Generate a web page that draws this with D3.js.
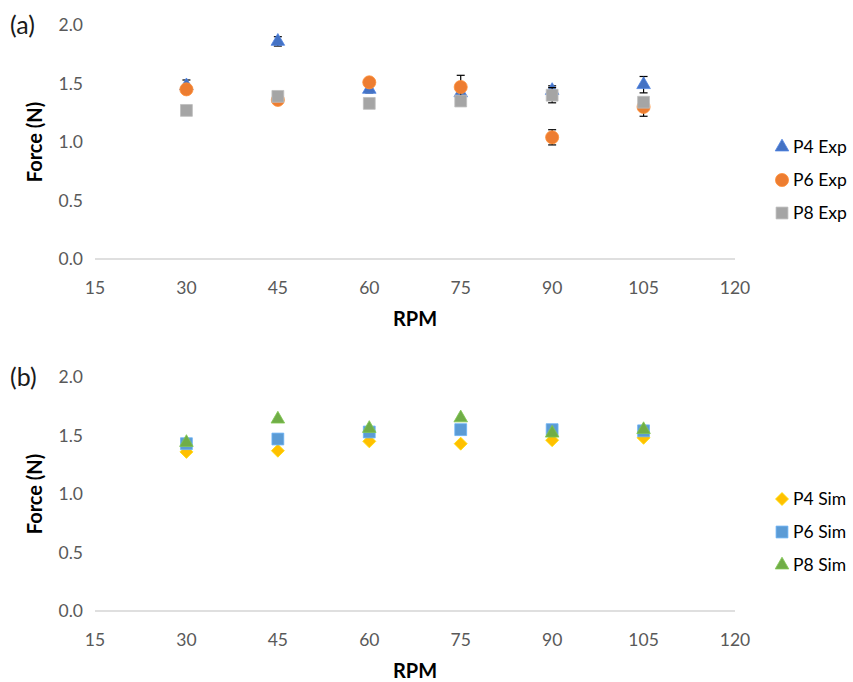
<!DOCTYPE html>
<html>
<head>
<meta charset="utf-8">
<script src="https://cdn.jsdelivr.net/npm/d3@7"></script>
<style>
    body { margin: 0; background: #fff; }
    text { font-family: Lato, "Open Sans", sans-serif; }
    .tick-label { fill: #595959; font-size: 17.5px; }
    .axis-title { fill: #000; font-size: 20px; font-weight: bold; }
    .panel-label { fill: #1a1a1a; font-size: 25px; }
    .legend-text { fill: #000; font-size: 17.5px; }
</style>
</head>
<body>
<div id="wrapper"></div>
<script>
const rpm = [30, 45, 60, 75, 90, 105];
const xTicks = [15, 30, 45, 60, 75, 90, 105, 120];
const yTicks = [0.0, 0.5, 1.0, 1.5, 2.0];

// panel (a) experiment
const p4Exp = [1.48, 1.86, 1.45, 1.42, 1.44, 1.49];
const p4ExpErr = [0.05, 0.04, 0.03, 0.03, 0.04, 0.07];
const p6Exp = [1.45, 1.36, 1.51, 1.47, 1.04, 1.30];
const p6ExpErr = [0.03, 0.02, 0.03, 0.10, 0.065, 0.08];
const p8Exp = [1.27, 1.39, 1.33, 1.35, 1.40, 1.34];
const p8ExpErr = [0.02, 0.02, 0.02, 0.02, 0.065, 0.03];

// panel (b) simulation
const p4Sim = [1.36, 1.37, 1.45, 1.43, 1.46, 1.48];
const p6Sim = [1.43, 1.47, 1.53, 1.55, 1.55, 1.54];
const p8Sim = [1.44, 1.64, 1.56, 1.65, 1.52, 1.55];

const dimensions = {
    width: 853,
    height: 682,
    margin: { left: 95, right: 118 },
    panelTop: [25, 377],
    panelHeight: 234,
}

const wrapper = d3.select("#wrapper")
    .append("svg")
    .attr("width", dimensions.width)
    .attr("height", dimensions.height);

const xScale = d3.scaleLinear()
    .domain([15, 120])
    .range([dimensions.margin.left, dimensions.width - dimensions.margin.right]);

const diamond = s => `M0,${-s}L${s},0L0,${s}L${-s},0Z`;

function markerPath(shape) {
    if (shape === "triangle") return d3.symbol(d3.symbolTriangle, 80)();
    if (shape === "circle") return d3.symbol(d3.symbolCircle, 135)();
    if (shape === "square") return d3.symbol(d3.symbolSquare, 140)();
    return diamond(6.5);
}

function drawPanel(top, label, series) {
    const yScale = d3.scaleLinear()
        .domain([0, 2])
        .range([top + dimensions.panelHeight, top]);

    const g = wrapper.append("g");
    const y0 = yScale(0);

    // x axis line
    g.append("line")
        .attr("x1", xScale(15))
        .attr("x2", xScale(120))
        .attr("y1", y0)
        .attr("y2", y0)
        .attr("stroke", "#bfbfbf")
        .attr("stroke-width", 1);

    g.selectAll(".x-label")
        .data(xTicks)
        .enter()
        .append("text")
        .attr("class", "tick-label")
        .attr("x", d => xScale(d))
        .attr("y", y0 + 35)
        .attr("text-anchor", "middle")
        .text(d => d);

    g.selectAll(".y-label")
        .data(yTicks)
        .enter()
        .append("text")
        .attr("class", "tick-label")
        .attr("x", 83)
        .attr("y", d => yScale(d) + 6)
        .attr("text-anchor", "end")
        .text(d => d.toFixed(1));

    g.append("text")
        .attr("class", "axis-title")
        .attr("x", xScale(67.5))
        .attr("y", y0 + 67)
        .attr("text-anchor", "middle")
        .text("RPM");

    g.append("text")
        .attr("class", "axis-title")
        .attr("transform", `translate(42, ${yScale(1)}) rotate(-90)`)
        .attr("text-anchor", "middle")
        .text("Force (N)");

    g.append("text")
        .attr("class", "panel-label")
        .attr("x", 10)
        .attr("y", top + 9)
        .text(label);

    series.forEach((s, i) => {
        const data = rpm.map((r, j) => ({ x: r, y: s.values[j], e: s.err ? s.err[j] : 0 }));

        // error bars sit under the markers
        if (s.err) {
            const eb = g.selectAll(".err-" + i)
                .data(data)
                .enter()
                .append("g")
                .attr("class", "err-" + i)
                .attr("stroke", "#000")
                .attr("stroke-width", 1.2);
            eb.append("line")
                .attr("x1", d => xScale(d.x)).attr("x2", d => xScale(d.x))
                .attr("y1", d => yScale(d.y - d.e)).attr("y2", d => yScale(d.y + d.e));
            [1, -1].forEach(sign => {
                eb.append("line")
                    .attr("x1", d => xScale(d.x) - 4).attr("x2", d => xScale(d.x) + 4)
                    .attr("y1", d => yScale(d.y + sign * d.e))
                    .attr("y2", d => yScale(d.y + sign * d.e));
            });
        }

        g.selectAll(".pt-" + i)
            .data(data)
            .enter()
            .append("path")
            .attr("class", "pt-" + i)
            .attr("d", markerPath(s.shape))
            .attr("transform", d => `translate(${xScale(d.x)},${yScale(d.y)})`)
            .attr("fill", s.color)
            .attr("stroke", d3.color(s.color).brighter(0.4))
            .attr("stroke-width", 0.8);

        const ly = top + 122 + i * 33;
        g.append("path")
            .attr("d", markerPath(s.shape))
            .attr("transform", `translate(782,${ly})`)
            .attr("fill", s.color)
            .attr("stroke", d3.color(s.color).brighter(0.4))
            .attr("stroke-width", 0.8);
        g.append("text")
            .attr("class", "legend-text")
            .attr("x", 793)
            .attr("y", ly + 6)
            .text(s.name);
    });
}

drawPanel(dimensions.panelTop[0], "(a)", [
    { name: "P4 Exp", values: p4Exp, err: p4ExpErr, shape: "triangle", color: "#4472C4" },
    { name: "P6 Exp", values: p6Exp, err: p6ExpErr, shape: "circle", color: "#ED7D31" },
    { name: "P8 Exp", values: p8Exp, err: p8ExpErr, shape: "square", color: "#A5A5A5" },
]);

drawPanel(dimensions.panelTop[1], "(b)", [
    { name: "P4 Sim", values: p4Sim, shape: "diamond", color: "#FFC000" },
    { name: "P6 Sim", values: p6Sim, shape: "square", color: "#5B9BD5" },
    { name: "P8 Sim", values: p8Sim, shape: "triangle", color: "#70AD47" },
]);
</script>
</body>
</html>
